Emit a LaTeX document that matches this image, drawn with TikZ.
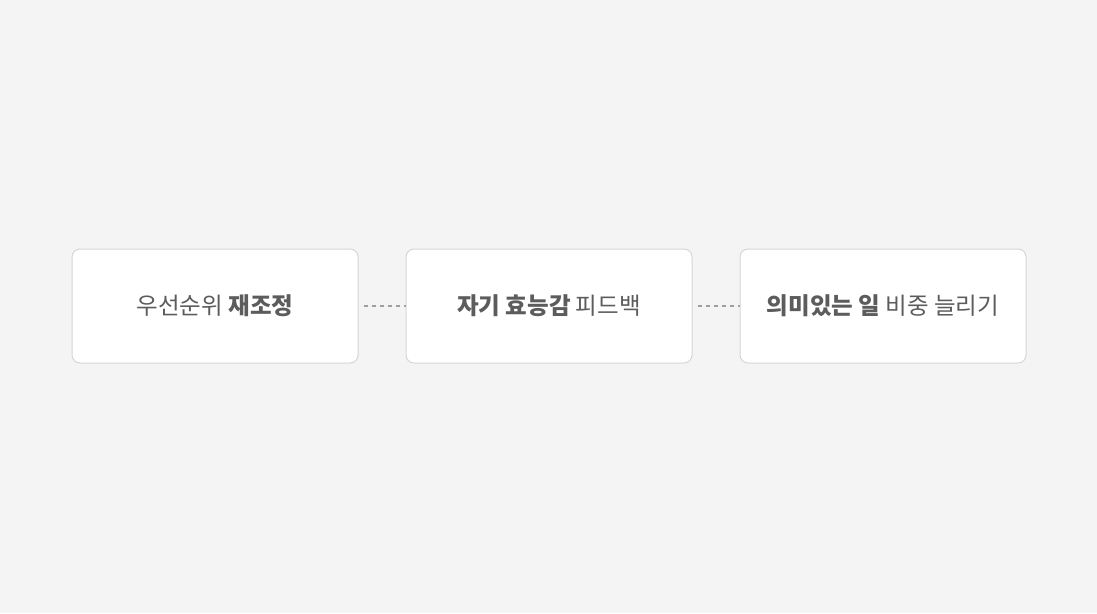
\documentclass[tikz,border=0pt]{standalone}
\usepackage{fontspec}
\setmainfont{Noto Sans CJK KR}
\newfontfamily\krblk{Noto Sans CJK KR Black}
\definecolor{bgc}{HTML}{F4F4F4}
\definecolor{bdc}{HTML}{D6D6D6}
\definecolor{txc}{HTML}{5C5C5C}
\definecolor{dsc}{HTML}{A0A0A0}
\begin{document}
\begin{tikzpicture}[x=1pt,y=-1pt,
  card/.style={draw=bdc,fill=white,line width=1pt,rounded corners=8pt,minimum width=286pt,minimum height=114pt,inner sep=0pt,text=txc,font=\fontsize{23.5}{28}\selectfont},
  link/.style={draw=dsc,line width=1.5pt,dash pattern=on 4pt off 4pt}]
\fill[bgc] (0,0) rectangle (1097,613);
\useasboundingbox (0,0) rectangle (1097,613);
\node[card] (a) at (215,306) {\raisebox{-2.5pt}{우선순위 {\krblk 재조정}}};
\node[card] (b) at (549,306) {\raisebox{-2.5pt}{{\krblk 자기 효능감} 피드백}};
\node[card] (c) at (883,306) {\raisebox{-2.5pt}{{\krblk 의미있는 일} 비중 늘리기}};
\draw[link] ([xshift=5pt]a.east) -- (b.west);
\draw[link] ([xshift=5pt]b.east) -- (c.west);
\end{tikzpicture}
\end{document}
